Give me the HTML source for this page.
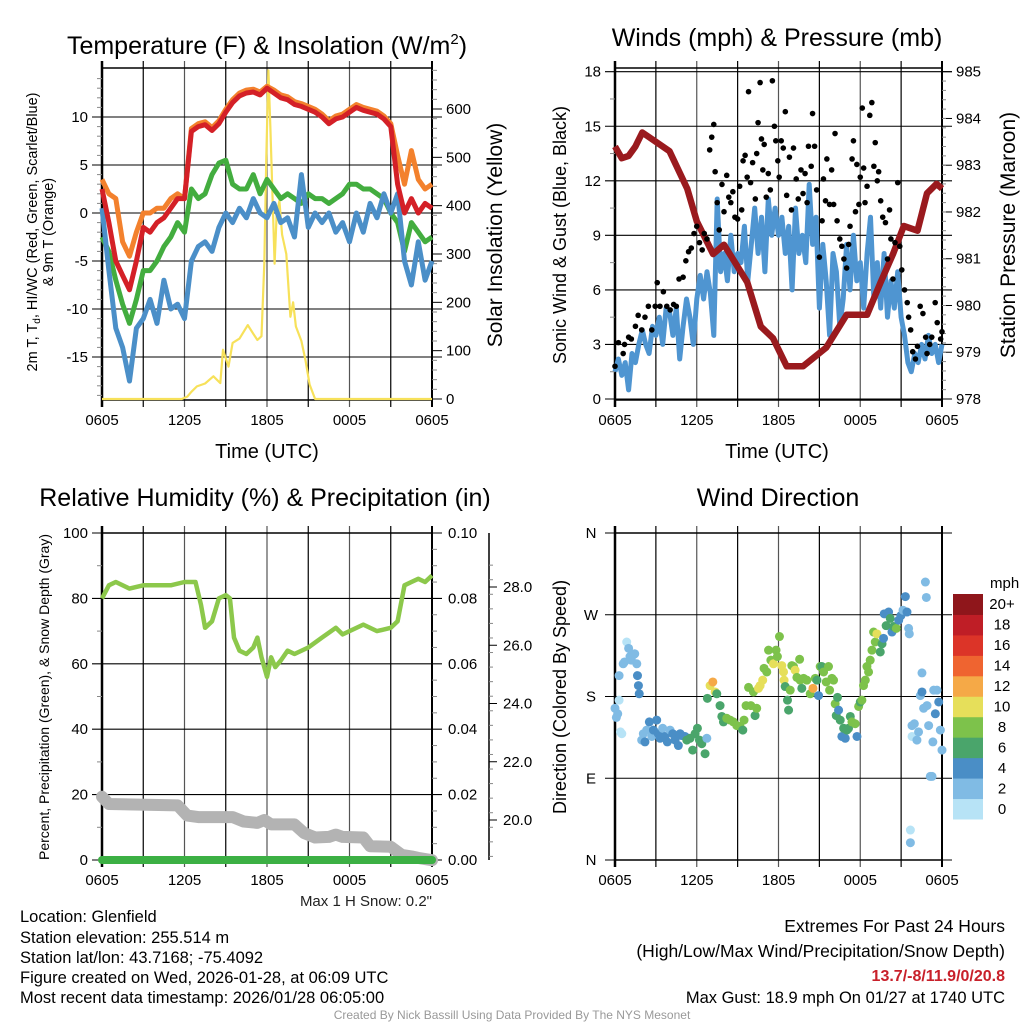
<!DOCTYPE html>
<html><head><meta charset="utf-8"><style>
body{margin:0;background:#fff;}
svg{display:block;font-family:"Liberation Sans",sans-serif;}
</style></head><body>
<svg id="s" width="1024" height="1024" viewBox="0 0 1024 1024">
<rect width="1024" height="1024" fill="#fff"/>
<text x="267" y="54" font-size="25" text-anchor="middle">Temperature (F) &amp; Insolation (W/m<tspan dy="-10" font-size="15">2</tspan><tspan dy="10">)</tspan></text>
<text x="777" y="46" font-size="25" text-anchor="middle">Winds (mph) &amp; Pressure (mb)</text>
<text x="265" y="506" font-size="25" text-anchor="middle">Relative Humidity (%) &amp; Precipitation (in)</text>
<text x="778" y="506" font-size="25" text-anchor="middle">Wind Direction</text>
<text x="267" y="458" font-size="20" text-anchor="middle">Time (UTC)</text>
<text x="777" y="458" font-size="20" text-anchor="middle">Time (UTC)</text>
<text transform="translate(37,232) rotate(-90)" font-size="14.5" text-anchor="middle">2m T, T<tspan font-size="10" dy="3">d</tspan><tspan dy="-3">, HI/WC (Red, Green, Scarlet/Blue)</tspan></text>
<text transform="translate(53,232) rotate(-90)" font-size="14.5" text-anchor="middle">&amp; 9m T (Orange)</text>
<text transform="translate(502,235) rotate(-90)" font-size="21" text-anchor="middle">Solar Insolation (Yellow)</text>
<text transform="translate(566,235) rotate(-90)" font-size="18" text-anchor="middle">Sonic Wind &amp; Gust (Blue, Black)</text>
<text transform="translate(1015,235) rotate(-90)" font-size="21" text-anchor="middle">Station Pressure (Maroon)</text>
<text transform="translate(49,697) rotate(-90)" font-size="14" text-anchor="middle">Percent, Precipitation (Green), &amp; Snow Depth (Gray)</text>
<text transform="translate(566,697) rotate(-90)" font-size="18" text-anchor="middle">Direction (Colored By Speed)</text>
<text x="432" y="906" font-size="15" text-anchor="end" fill="#222">Max 1 H Snow: 0.2"</text>
<g font-size="16.5">
<text x="20" y="922">Location: Glenfield</text>
<text x="20" y="943">Station elevation: 255.514 m</text>
<text x="20" y="963">Station lat/lon: 43.7168; -75.4092</text>
<text x="20" y="983">Figure created on Wed, 2026-01-28, at 06:09 UTC</text>
<text x="20" y="1003">Most recent data timestamp: 2026/01/28 06:05:00</text>
</g>
<g font-size="17.5" text-anchor="end">
<text x="1005" y="932">Extremes For Past 24 Hours</text>
<text x="1005" y="957">(High/Low/Max Wind/Precipitation/Snow Depth)</text>
<text x="1005" y="981" fill="#c8202a" font-weight="bold" font-size="16">13.7/-8/11.9/0/20.8</text>
<text x="1005" y="1003" font-size="16.5">Max Gust: 18.9 mph On 01/27 at 1740 UTC</text>
</g>
<text x="512" y="1019" font-size="12" text-anchor="middle" fill="#999">Created By Nick Bassill Using Data Provided By The NYS Mesonet</text>
</svg>
<script>
// ---------- data ----------
const timeTicks = ["0605","1205","1805","0005","0605"];
const tempHours = [0,0.5,1,1.5,2,2.5,3,3.5,4,4.5,5,5.5,6,6.5,7,7.5,8,8.5,9,9.5,10,10.5,11,11.5,12,12.5,13,13.5,14,14.5,15,15.5,16,16.5,17,17.5,18,18.5,19,19.5,20,20.5,21,21.5,22,22.5,23,23.5,24];
const tempRed = [2.5,-1,-5,-6.5,-8,-5,-1.5,-2,-1,-0.5,0.5,1.5,1.5,8.5,9,9.2,8.6,9.3,10.5,11.5,12.2,12.5,12.6,12.3,13,12.5,12,11.8,11.3,11.1,10.8,10.5,10,9.3,9.8,10,10.5,11,10.7,10.5,10.3,9.8,9,3,0,1.5,0,1,0.5];
const tempOrange = [3.5,2,1.5,-3,-4.5,-2,0,0,0.5,0.5,1.5,2,1.5,8.8,9.3,9.5,8.9,9.6,10.8,11.8,12.5,12.8,12.9,12.6,13.2,12.8,12.3,12.1,11.6,11.4,11.1,10.8,10.3,9.6,10.1,10.3,10.8,11.3,11,10.8,10.6,10.1,9.3,6,3,6.5,3.5,2.5,3];
const tempGreen = [-2.5,-4,-7,-9.5,-11.5,-9,-6,-6,-5,-3.5,-2.5,-1,-2,2.5,1.5,2,4,5.2,5.5,3,2.5,2.5,4,2,3.5,2.5,1.5,2,1.5,1,2,1.5,1.5,1,1.5,2,3,3,2.5,2.5,2,1.5,0,-1,-4,-1,-2,-3,-2.5];
const tempBlue = [0.5,-6,-12,-14,-17.5,-12,-11,-9,-11.5,-7,-10,-9.5,-11,-5,-3.5,-3,-4,-1.5,0,-1,0.5,-0.5,1.5,0,-0.5,1,-1,-0.5,-2.5,4,-1.5,0,-1,0,-2,-1,-3,0,-2,1,-0.5,2,0,2,-5,-7.5,-3,-7,-5];
const solarHours = [0,5.8,6.2,6.5,6.9,7.5,8.1,8.6,8.8,9.2,9.5,10,10.6,11,11.3,11.6,11.8,11.95,12.1,12.25,12.4,12.55,12.7,12.9,13.1,13.4,13.7,13.9,14.1,14.5,14.8,15.1,15.5,24];
const solarVals = [0,0,5,15,26,32,47,33,102,67,116,125,153,135,122,130,280,500,680,560,420,280,380,410,340,300,170,200,150,120,80,30,0,0];
const tempTicks = [-15,-10,-5,0,5,10];
const solarTicks = [0,100,200,300,400,500,600];

const windSpeed = [1.5,2.2,1.3,2.0,0.5,2.5,2.0,3.0,3.8,3.0,2.5,4.0,
 3.5,4.5,3.0,5.0,4.8,3.5,5.0,2.2,4.0,5.5,4.5,3.0,
 5.5,6.8,5.5,7.0,5.8,3.5,11.0,7.0,8.0,6.5,9.0,7.0,
 8.0,7.5,9.5,6.5,8.5,10.5,8.0,10.0,7.0,11.0,9.0,10.5,
 9.0,10.0,8.0,9.5,6.0,10.5,8.0,9.0,7.5,11.8,8.5,10.0,
 5.0,8.5,6.5,3.5,8.0,7.0,4.0,5.5,8.5,6.0,9.0,6.5,
 7.5,5.0,8.0,10.0,5.5,7.5,5.0,8.0,4.5,6.5,5.0,7.0,
 4.5,3.5,2.0,1.5,2.5,2.0,3.0,2.2,3.5,2.5,3.0,2.0,3.0];
const gustHours = [0,0.25,0.6,0.7,1,1.2,1.5,1.7,1.96,2.2,2.45,2.7,2.95,3.1,3.3,3.55,3.8,4.05,4.3,4.5,4.7,5,5.2,5.4,5.6,5.8,6,6.2,6.4,6.55,6.75,6.95,7.1,7.25,7.35,7.5,7.65,7.85,8,8.2,8.35,8.5,8.65,8.8,9,9.15,9.3,9.4,9.55,9.7,9.8,9.95,10.1,10.3,10.4,10.5,10.65,10.75,10.85,10.95,11.1,11.25,11.4,11.55,11.7,11.8,11.95,12.05,12.2,12.35,12.5,12.6,12.8,12.95,13.1,13.3,13.45,13.65,13.8,13.95,14.1,14.2,14.4,14.5,14.65,14.8,15,15.2,15.3,15.45,15.55,15.75,15.9,16.05,16.15,16.3,16.5,16.65,16.8,17,17.15,17.25,17.4,17.5,17.65,17.75,17.9,18,18.15,18.25,18.35,18.5,18.7,18.85,19,19.1,19.25,19.35,19.5,19.65,19.85,20,20.15,20.25,20.4,20.55,20.75,20.9,21.05,21.25,21.45,21.55,21.7,21.85,22.05,22.2,22.4,22.6,22.8,22.9,23.1,23.25,23.5,23.65,23.9,24];
const gustVals = [1.8,3.1,2.5,3,3.4,3.3,4,4.6,3.8,4.5,5.1,3.8,5.1,6.4,5.1,5.9,5.1,4.9,5.2,5.1,6.6,6.7,7.6,8.1,8.3,9.1,9.5,8.6,8.2,9.1,8.8,13.7,14.4,15.1,12.5,10.8,9.3,11.8,10.3,12.3,11.1,10.8,11.4,10,9.9,11.7,10.4,13.1,13.4,12.2,16.9,11.9,13,11,13.5,15.2,17.4,14.3,12.6,14,11.1,12.4,11.5,17.5,15,14.2,13.1,12.2,14.2,13.8,15.8,11.2,13.3,10.4,13.8,12.1,11,12.6,11.3,12.4,10.8,13.9,12.8,15.7,13.9,11.5,7.8,9.8,12.1,10.9,13.2,10.7,12.6,10.7,14.6,9.8,8.8,8.4,7.7,7.2,8.5,9.5,13.2,14.2,10.3,12.9,10.7,12.2,16,12.7,10.8,11.7,15.6,16.3,12.8,14.1,12,12.5,10.9,10,9.7,7.7,10.4,8.8,6.6,8.6,11.9,8.4,7.1,6,5.3,4.5,3.8,2.6,2.2,2.9,5.1,4.7,3.4,2.5,3,3.4,5.3,4.2,3.3,3.7];
const presHours = [0,0.5,1,1.5,2,3,4,5.3,6,7.2,8,9.7,10.7,11.6,12.6,13.8,15.5,17,18.5,19.5,20.4,21.2,22.2,22.9,23.6,24];
const presVals = [983.4,983.15,983.2,983.4,983.7,983.5,983.3,982.5,981.8,981.1,981.3,980.5,979.55,979.3,978.7,978.7,979.1,979.8,979.8,980.5,981.1,981.7,981.6,982.4,982.6,982.5];
const windTicks = [0,3,6,9,12,15,18];
const presTicks = [978,979,980,981,982,983,984,985];

const rhHours = [0,0.5,1,2,3,5,6,6.8,7.2,7.5,8,8.5,9,9.3,9.6,10,10.5,11,11.3,11.6,12,12.3,12.6,13,13.5,14,15,16,17,17.5,18,19,20,21,21.5,22,22.5,23,23.5,24];
const rhVals = [80,84,85,83,84,84,85,85,78,71,73,80,81,80,68,64,63,65,68,62,56,62,59,61,64,63,65,68,71,69,70,72,70,71,73,84,85,86,85,87];
const snowHours = [0,0.5,5.5,6.2,7,9.5,10.3,11.3,11.8,12.3,14,14.7,15.5,16.5,17,17.5,19,19.5,21,21.8,22.5,23,24];
const snowVals = [20.8,20.55,20.5,20.15,20.1,20.1,19.95,19.9,20.0,19.85,19.85,19.55,19.4,19.42,19.5,19.42,19.4,19.1,19.08,18.8,18.75,18.7,18.62];
const precipVals = [0,0];
const rhTicks = [0,20,40,60,80,100];
const precipTicks = ["0.00","0.02","0.04","0.06","0.08","0.10"];
const snowTicks = ["20.0","22.0","24.0","26.0","28.0"];

const dirPoints = [[0,167,1],[0.1,157,2],[0.2,161,2],[0.3,176,0],[0.3,203,2],[0.4,141,0],[0.5,139,0],[0.6,216,2],[0.7,218,2],[0.86,240,0],[1,233,2],[1.1,224,2],[1.2,220,2],[1.35,226,2],[1.45,227,2],[1.6,216,2],[1.65,203,3],[1.72,192,3],[1.78,183,3],
[1.96,132,2],[2.08,139,2],[2.2,130,3],[2.33,143,2],[2.52,152,3],[2.7,136,2],[2.82,143,3],[3.06,154,3],[3.18,139,3],[3.31,134,3],[3.5,145,2],[3.67,136,3],[3.84,130,3],[4.04,143,2],[4.24,139,3],[4.41,132,3],[4.65,126,3],[4.78,139,3],[4.9,137,3],[5.14,136,4],[5.27,132,5],[5.51,134,5],[5.7,121,5],[5.88,139,5],[6.05,145,5],[6.2,132,5],[6.37,128,5],[6.61,117,5],[6.74,134,2],
[6.78,178,5],[6.98,192,10],[7.18,196,12],[7.35,185,10],[7.47,183,6],[7.71,170,6],[7.84,158,6],[7.96,152,6],[8.2,156,7],[8.45,154,7],[8.69,152,7],[8.94,148,7],[9.18,147,7],[9.38,143,6],[9.47,154,7],[9.62,170,7],[9.8,190,7],[9.97,170,7],[10.16,185,7],[10.28,159,6],[10.4,167,7],[10.53,189,10],[10.65,192,10],[10.84,198,10],[10.94,211,7],[11.14,207,8],[11.27,231,7],[11.44,220,7],[11.63,216,10],[11.82,231,7],[11.92,224,8],[12.07,246,7],[12.24,214,10],[12.37,207,9],[12.41,198,10],[12.49,191,6],[12.66,176,6],[12.74,165,6],[12.86,187,8],[12.98,214,7],[13.1,213,8],[13.22,209,10],[13.35,201,7],[13.55,221,7],[13.59,198,7],[13.71,189,6],[13.84,200,7],[14.08,198,7],[14.33,183,8],[14.53,189,12],[14.7,200,7],[14.82,198,6],[14.94,181,4],[15.06,213,7],[15.18,213,6],[15.31,207,7],[15.5,196,8],[15.67,213,8],[15.75,187,7],[15.92,200,7],[16.04,198,8],[16.16,172,7],[16.24,159,6],[16.33,179,5],[16.41,165,4],[16.53,154,6],[16.65,136,4],[16.78,145,6],[16.9,134,4],[17.02,143,6],[17.14,145,6],[17.27,158,6],[17.39,152,8],[17.63,150,8],[17.76,136,4],[17.88,169,7],[18,174,6],[18.12,176,7],[18.24,192,7],[18.37,198,7],[18.49,213,8],[18.61,207,8],[18.73,220,8],[18.86,231,8],[18.98,251,8],[19.1,240,7],[19.22,249,10],[19.47,229,6],[19.6,238,6],[19.71,244,4],[19.76,271,4],[19.9,258,6],[20.08,273,4],[20.2,266,6],[20.33,251,4],[20.45,257,6],[20.65,255,8],[20.82,264,4],[20.98,269,4],[21.14,275,2],[21.31,290,4],[21.43,273,4],[21.55,255,2],[21.6,249,2],[21.68,33,0],[21.68,19,2],[21.8,136,0],[21.8,148,2],[21.97,150,2],[22.16,132,2],[22.28,141,2],[22.41,181,2],[22.53,185,4],[22.53,206,2],[22.65,167,2],[22.78,306,2],[22.85,289,2],[22.9,170,2],[23.02,148,2],[23.14,92,2],[23.27,92,2],[23.33,130,2],[23.39,187,2],[23.51,161,4],[23.63,187,2],[23.76,174,4],[23.88,143,2],[24,121,2]];
const dirTicks = ["N","E","S","W","N"];
const speedLabels = ["0","2","4","6","8","10","12","14","16","18","20+"];
const speedColors = ["#b7e3f6","#80bbe4","#4a8ec6","#4aa56b","#7dc24b","#e6df5a","#f5a947","#ef6430","#dc3428","#bf1e26","#8f161b"];
const speedBreaks = [1,2.5,4.5,6.5,8.5,10.5,12.5,14.5,16.5,18.5];

// ---------- helpers ----------
const NS="http://www.w3.org/2000/svg";
const svg=document.getElementById('s');
function mk(tag,attrs,parent){const e=document.createElementNS(NS,tag);for(const k in attrs)e.setAttribute(k,attrs[k]);(parent||svg).appendChild(e);return e;}
function lin(d0,d1,r0,r1){return v=>r0+(v-d0)/(d1-d0)*(r1-r0);}
function pathD(xs,ys,fx,fy){return xs.map((x,i)=>(i?'L':'M')+fx(x).toFixed(1)+','+fy(ys[i]).toFixed(1)).join('');}

function frame(p,name){
  const g=mk('g',{});
  
  
  for(let h=3;h<24;h+=3){const x=p.fx(h);
    const l=mk('line',{x1:x,x2:x,y1:p.y0-7,y2:p.y1+7,stroke:h%6===0?'#555':'#000','stroke-width':1.2},g);
    
    }
  mk('rect',{x:p.x0,y:p.y0,width:p.x1-p.x0,height:p.y1-p.y0,fill:'none',stroke:'#000','stroke-width':1.5},g);
  mk('line',{x1:p.x0,x2:p.x0,y1:p.y0-7,y2:p.y1+7,stroke:'#000','stroke-width':2.5},g);
  mk('line',{x1:p.x1,x2:p.x1,y1:p.y0-7,y2:p.y1+7,stroke:'#000','stroke-width':2},g);
  timeTicks.forEach((t,i)=>{const x=p.fx(i*6);
    const tx=mk('text',{x:x,y:p.y1+25,'font-size':15,'text-anchor':'middle'},g);tx.textContent=t;
    
    });
  return g;
}
function hgrid(p,y,g){mk('line',{x1:p.x0-10,x2:p.x1+10,y1:y,y2:y,stroke:'#000','stroke-width':1.1},g);}
function minor(x,y,dir,g,len){mk('line',{x1:x,x2:x+dir*(len||5),y1:y,y2:y,stroke:'#888','stroke-width':1},g);}

// ---------- panel 1 ----------
{
const p={x0:102,x1:432,y0:68,y1:400};p.fx=lin(0,24,p.x0,p.x1);
const fy=lin(0,10,213,117), fs=lin(0,600,399,109);
const g=frame(p,'temp');
tempTicks.forEach(v=>{const y=fy(v);hgrid(p,y,g);const t=mk('text',{x:p.x0-14,y:y+5,'font-size':15,'text-anchor':'end'},g);t.textContent=v;
  });
for(let v=-19;v<=14;v++){if(v%5)minor(p.x0,fy(v),-1,g);}
solarTicks.forEach(v=>{const y=fs(v);mk('line',{x1:p.x1,x2:p.x1+10,y1:y,y2:y,stroke:'#000'},g);const t=mk('text',{x:p.x1+14,y:y+5,'font-size':15},g);t.textContent=v;
  });
for(let v=20;v<=680;v+=20){if(v%100)minor(p.x1,fs(v),1,g);}
const series=[['solar-line',solarHours,solarVals,fs,'#f7e15a',2.2],['orange-9m-temp-line',tempHours,tempOrange,fy,'#f3812d',5],['green-dewpoint-line',tempHours,tempGreen,fy,'#43ad3f',5],['blue-windchill-line',tempHours,tempBlue,fy,'#4b8fc8',5],['red-2m-temp-line',tempHours,tempRed,fy,'#d42027',5]];
series.forEach(s=>{const e=mk('path',{d:pathD(s[1],s[2],p.fx,s[3]),fill:'none',stroke:s[4],'stroke-width':s[5],'stroke-linejoin':'round'});
  });
}
// ---------- panel 2 ----------
{
const p={x0:615,x1:942,y0:68,y1:400};p.fx=lin(0,24,p.x0,p.x1);
const fy=lin(0,18,399,71.7), fp=lin(978,985,399,71.7);
const g=frame(p,'wind');
windTicks.forEach(v=>{const y=fy(v);hgrid(p,y,g);const t=mk('text',{x:p.x0-14,y:y+5,'font-size':15,'text-anchor':'end'},g);t.textContent=v;
  });
for(let v=1.5;v<18;v+=3)minor(p.x0,fy(v),-1,g);
presTicks.forEach(v=>{const y=fp(v);mk('line',{x1:p.x1,x2:p.x1+10,y1:y,y2:y,stroke:'#000'},g);const t=mk('text',{x:p.x1+14,y:y+5,'font-size':15},g);t.textContent=v;
  });
for(let v=978.2;v<985;v+=0.2)minor(p.x1,fp(v),1,g,4);
const wl=mk('path',{d:pathD(windSpeed.map((_,i)=>i*0.25),windSpeed,p.fx,fy),fill:'none',stroke:'#4f95d1','stroke-width':5,'stroke-linejoin':'round'});

const pl=mk('path',{d:pathD(presHours,presVals,p.fx,fp),fill:'none',stroke:'#9a1a1e','stroke-width':6.5,'stroke-linejoin':'round'});

gustHours.forEach((h,i)=>{const c=mk('circle',{cx:p.fx(h),cy:fy(gustVals[i]),r:2.8,fill:'#000'});
  });
}
// ---------- panel 3 ----------
{
const p={x0:102,x1:432,y0:533,y1:860};p.fx=lin(0,24,p.x0,p.x1);
const fy=lin(0,100,860,533), fsn=lin(20,28,820,587);
const g=frame(p,'rh');
rhTicks.forEach((v,i)=>{const y=fy(v);hgrid(p,y,g);const t=mk('text',{x:p.x0-14,y:y+5,'font-size':15,'text-anchor':'end'},g);t.textContent=v;
  
  const t2=mk('text',{x:p.x1+16,y:y+5,'font-size':15},g);t2.textContent=precipTicks[i];
  });
for(let v=10;v<100;v+=20){minor(p.x0,fy(v),-1,g);}
for(let v=5;v<100;v+=5){if(v%20)minor(p.x1,fy(v),1,g);}
mk('line',{x1:489,x2:489,y1:533,y2:860,stroke:'#000','stroke-width':1.5},g);
snowTicks.forEach(v=>{const y=fsn(+v);mk('line',{x1:489,x2:497,y1:y,y2:y,stroke:'#000'},g);const t=mk('text',{x:503,y:y+5,'font-size':15},g);t.textContent=v;
  });
for(let v=18.75;v<29.2;v+=0.5){if(v%2)minor(489,fsn(v),1,g,4);}
const sn=mk('path',{d:pathD(snowHours,snowVals,p.fx,fsn),fill:'none',stroke:'#b3b3b3','stroke-width':12,'stroke-linejoin':'round','stroke-linecap':'round'});

const pr=mk('path',{d:pathD([0,24],precipVals,p.fx,v=>fy(v*1000)),fill:'none',stroke:'#3cb044','stroke-width':8,'stroke-linecap':'round'});

const rh=mk('path',{d:pathD(rhHours,rhVals,p.fx,fy),fill:'none',stroke:'#8cc84b','stroke-width':4.5,'stroke-linejoin':'round'});

}
// ---------- panel 4 ----------
{
const p={x0:615,x1:942,y0:533,y1:860};p.fx=lin(0,24,p.x0,p.x1);
const fy=lin(0,360,860,533);
const g=frame(p,'wdir');
dirTicks.forEach((v,i)=>{const y=fy(i*90);hgrid(p,y,g);const t=mk('text',{x:591,y:y+5,'font-size':15,'text-anchor':'middle'},g);t.textContent=v;
  });
dirPoints.forEach(d=>{let k=0;while(k<speedBreaks.length&&d[2]>=speedBreaks[k])k++;
  const c=mk('circle',{cx:p.fx(d[0]),cy:fy(d[1]),r:4.5,fill:speedColors[k]});
  });
const lg=mk('g',{});

const t=mk('text',{x:990,y:588,'font-size':15},lg);t.textContent='mph';
const n=speedColors.length, top=594, bot=819, h=(bot-top)/n;
speedColors.forEach((c,i)=>{const y=bot-(i+1)*h;mk('rect',{x:953,y:y,width:30,height:h+0.5,fill:c},lg);
  const tx=mk('text',{x:1002,y:y+h/2+5,'font-size':15,'text-anchor':'middle'},lg);tx.textContent=speedLabels[i];
  });
}
</script>
</body></html>
